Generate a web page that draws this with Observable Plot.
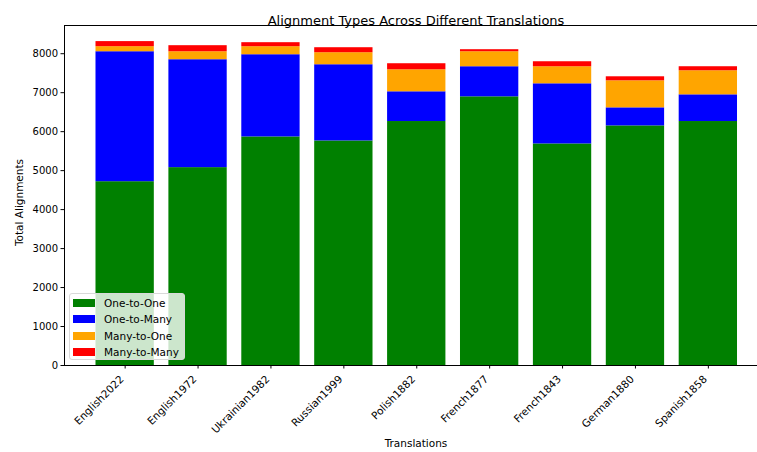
<!DOCTYPE html>
<html>
<head>
<meta charset="utf-8">
<script src="https://cdn.jsdelivr.net/npm/d3@7"></script>
<script src="https://cdn.jsdelivr.net/npm/@observablehq/plot@0.6"></script>
<style>
  html, body { margin: 0; padding: 0; background: #fff; }
  #wrap { position: relative; width: 757px; height: 452px; overflow: hidden; font-family: "DejaVu Sans", sans-serif; }
  #legend { position: absolute; left: 69px; top: 293px; width: 116px; height: 67px; border: 1px solid #d9d9d9; border-radius: 3px; background: rgba(255,255,255,0.8); font-size: 10.5px; color: #000; box-sizing: border-box; padding-top: 1px; }
  #legend .row { display: flex; align-items: center; height: 16.3px; }
  #legend .sw { width: 22px; height: 8px; margin-left: 3px; margin-right: 9px; }
</style>
</head>
<body>
<div id="wrap"></div>
<script>
const translations = ["English2022","English1972","Ukrainian1982","Russian1999","Polish1882","French1877","French1843","German1880","Spanish1858"];
const types = ["One-to-One","One-to-Many","Many-to-One","Many-to-Many"];
const colors = ["green","blue","orange","red"];
const oneToOne   = [4716, 5077, 5865, 5762, 6260, 6894, 5685, 6148, 6260];
const oneToMany  = [3335, 2769, 2109, 1955,  763,  772, 1543,  463,  685];
const manyToOne  = [ 130,  205,  206,  309,  565,  385,  438,  694,  618];
const manyToMany = [ 130,  155,  103,  128,  155,   52,  128,  103,  103];
const yTicks = [0,1000,2000,3000,4000,5000,6000,7000,8000];

const series = [oneToOne, oneToMany, manyToOne, manyToMany];
const data = [];
translations.forEach((t, i) => {
  types.forEach((ty, j) => data.push({translation: t, type: ty, value: series[j][i]}));
});

const chart = Plot.plot({
  width: 757,
  height: 452,
  marginLeft: 64,
  marginRight: 0,
  marginTop: 25,
  marginBottom: 87,
  style: {fontFamily: "DejaVu Sans, sans-serif", fontSize: "10px", color: "#000", background: "#fff"},
  x: {domain: translations, range: [64, 768.5], paddingInner: 0.2, paddingOuter: 0.432, round: false},
  y: {domain: [0, 8724]},
  color: {domain: types, range: colors},
  marks: [
    Plot.barY(data, {x: "translation", y: "value", fill: "type", order: types}),
    Plot.frame({anchor: "left", stroke: "#000"}),
    Plot.frame({anchor: "top", stroke: "#000"}),
    Plot.frame({anchor: "bottom", stroke: "#000"}),
    Plot.axisY({ticks: yTicks, tickFormat: "d", tickSize: 3.5, tickPadding: 3, label: null, fontSize: 10, stroke: "#000"}),
    Plot.axisX({tickSize: 3.5, tickFormat: () => "", label: null, stroke: "#000"}),
    Plot.text(translations, {x: d => d, frameAnchor: "bottom", rotate: -45, textAnchor: "end", lineAnchor: "top", dx: -6, dy: 9, fontSize: 10.5, fill: "#000"}),
    Plot.text(["Alignment Types Across Different Translations"], {frameAnchor: "top", dx: 5, dy: -10, fontSize: 13, fill: "#000"}),
    Plot.text(["Total Alignments"], {frameAnchor: "left", textAnchor: "middle", dx: -45, dy: 7, rotate: -90, fontSize: 10.5, fill: "#000"}),
    Plot.text(["Translations"], {frameAnchor: "bottom", textAnchor: "middle", dx: 5, dy: 81, fontSize: 10.5, fill: "#000"})
  ]
});
const wrap = document.getElementById("wrap");
wrap.appendChild(chart);

const legend = document.createElement("div");
legend.id = "legend";
types.forEach((ty, j) => {
  const row = document.createElement("div");
  row.className = "row";
  const sw = document.createElement("span");
  sw.className = "sw";
  sw.style.background = colors[j];
  const lab = document.createElement("span");
  lab.textContent = ty;
  row.appendChild(sw); row.appendChild(lab);
  legend.appendChild(row);
});
wrap.appendChild(legend);
</script>
</body>
</html>
